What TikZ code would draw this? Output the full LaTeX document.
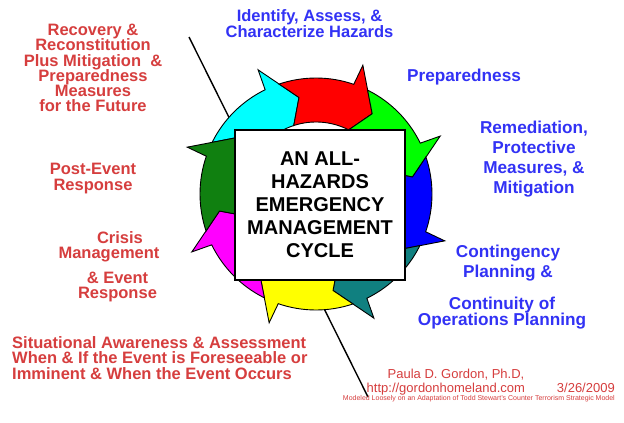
\documentclass[tikz,border=0pt]{standalone}
\usepackage{fontspec}
\setmainfont{Liberation Sans}
\definecolor{lblred}{RGB}{214,62,62}
\definecolor{lblblue}{RGB}{50,50,245}
\definecolor{ccyan}{RGB}{0,255,255}
\definecolor{cred}{RGB}{255,0,0}
\definecolor{cgreen}{RGB}{0,255,0}
\definecolor{cblue}{RGB}{0,0,255}
\definecolor{cteal}{RGB}{16,128,128}
\definecolor{cyellow}{RGB}{255,255,0}
\definecolor{cmagenta}{RGB}{255,0,255}
\definecolor{cdkgreen}{RGB}{16,128,16}
\newcommand{\tightls}{\lineskiplimit -30pt\relax}
\begin{document}
\begin{tikzpicture}[x=1pt,y=1pt,
  redlbl/.style={text=lblred, font={\bfseries\fontsize{16.5}{15.2}\selectfont\tightls}, align=center, inner sep=0pt},
  bluelbl/.style={text=lblblue, font={\bfseries\fontsize{17.2}{20}\selectfont\tightls}, align=center, inner sep=0pt},
  smallred/.style={text=lblred, inner sep=0pt},
  seg/.style={draw=black, line width=0.9pt, line join=miter},
]
\useasboundingbox[fill=white] (0,0) rectangle (624,-423);

% line behind the cycle
\coordinate (lt) at (189,-37);
\coordinate (lb) at (368,-397);
\draw[line width=1.4pt] (lt) -- (lb);

% ring of eight arrows
\begin{scope}[shift={(316,-194)}]
\foreach \t/\c in {115/ccyan,70/cred,25/cgreen,-20/cblue,-65/cteal,-110/cyellow,-155/cmagenta,160/cdkgreen} {
  \filldraw[seg, fill=\c] ({\t+38.6}:116) arc[start angle={\t+38.6}, end angle={\t+1}, radius=116pt]
    -- ({\t}:137) -- ({\t-15}:98) -- ({\t-7}:72)
    arc[start angle={\t-7}, end angle={\t+38}, radius=72pt]
    -- ({\t+30}:98) -- cycle;
}
\end{scope}

% central box
\node[draw, line width=1.5pt, fill=white, minimum width=170pt, minimum height=150pt, inner sep=0pt,
      align=center, font={\bfseries\fontsize{20}{23}\selectfont}] (box) at (320,-205)
  {AN ALL-\\HAZARDS\\EMERGENCY\\MANAGEMENT\\CYCLE};

% blue labels
\node[bluelbl, font={\bfseries\fontsize{16.5}{16}\selectfont}] (identify) at (309.5,-24) {Identify, Assess, \&\\Characterize Hazards};
\node[bluelbl] (prep) at (464,-77) {Preparedness};
\node[bluelbl] (remed) at (534,-159) {Remediation,\\Protective\\Measures, \&\\Mitigation};
\node[bluelbl] (conting) at (508,-263) {Contingency\\Planning \&};
\node[bluelbl, font={\bfseries\fontsize{17.2}{16.5}\selectfont\tightls}] (contin) at (502,-313) {Continuity of\\Operations Planning};

% red labels
\node[redlbl] (recovery) at (93,-68) {Recovery \&\\Reconstitution\\Plus Mitigation\ \ \&\\Preparedness\\Measures\\for the Future};
\node[redlbl] (postevent) at (93,-178.5) {Post-Event\\Response};
\node[redlbl] (crisis) at (109,-246.5) {\hspace*{22pt}Crisis\\Management};
\node[redlbl] (event) at (117.5,-287) {\& Event\\Response};
\node[redlbl, align=left, anchor=west] (situ) at (12,-358) {Situational Awareness \& Assessment\\When \& If the Event is Foreseeable or\\Imminent \& When the Event Occurs};

% credits
\node[smallred, font={\fontsize{13}{15}\selectfont}] (author) at (456,-375) {Paula D. Gordon, Ph.D,};
\node[smallred, anchor=east, font={\fontsize{13}{15}\selectfont}] (url) at (615,-389) {http://gordonhomeland.com\hspace{32pt}3/26/2009};
\node[smallred, anchor=east, font={\fontsize{7}{8}\selectfont}] (model) at (615,-399) {Modeled Loosely on an Adaptation of Todd Stewart's Counter Terrorism Strategic Model};
\end{tikzpicture}
\end{document}
